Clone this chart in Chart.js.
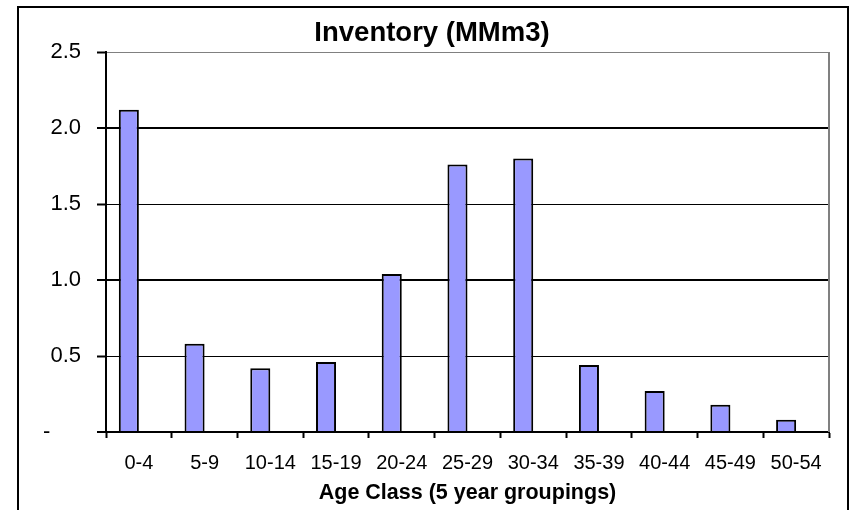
<!DOCTYPE html>
<html>
<head>
<meta charset="utf-8">
<title>Inventory (MMm3)</title>
<script src="https://cdn.jsdelivr.net/npm/chart.js@4.4.1/dist/chart.umd.min.js"></script>
<style>
    html, body { margin: 0; padding: 0; background: #fff; overflow: hidden; }
    #frame {
        position: absolute; left: 17px; top: 6px;
        width: 832px; height: 600px;
        border: 2px solid #000; box-sizing: border-box;
    }
    #wrap { position: absolute; left: 0; top: 0; width: 862px; height: 510px; }
</style>
</head>
<body>
<div id="frame"></div>
<div id="wrap"><canvas id="inventoryChart"></canvas></div>
<script>
// 데이터
const ageClasses = ['0-4', '5-9', '10-14', '15-19', '20-24', '25-29', '30-34', '35-39', '40-44', '45-49', '50-54'];
const inventory = [2.12, 0.58, 0.42, 0.46, 1.04, 1.76, 1.80, 0.44, 0.27, 0.18, 0.08];
// 원본 엑셀 차트의 빈 두번째 계열 (막대가 왼쪽으로 치우쳐 있음)
const emptySeries = [null, null, null, null, null, null, null, null, null, null, null];
const yTicks = [0, 0.5, 1.0, 1.5, 2.0, 2.5];

Chart.defaults.font.family = "'Liberation Sans', Arial, sans-serif";
Chart.defaults.color = '#000';

// 플롯 영역 오른쪽 회색 테두리
const plotBorder = {
    id: 'plotBorder',
    afterDraw(chart) {
        const { ctx, chartArea } = chart;
        ctx.save();
        ctx.strokeStyle = '#808080';
        ctx.lineWidth = 2;
        ctx.beginPath();
        ctx.moveTo(chartArea.right, chartArea.top);
        ctx.lineTo(chartArea.right, chartArea.bottom);
        ctx.stroke();
        ctx.restore();
    }
};

let invCtx = document.getElementById('inventoryChart').getContext('2d');
let invChart = new Chart(invCtx, {
    type: 'bar',
    data: {
        labels: ageClasses,
        datasets: [
            { label: 'Inventory', data: inventory, backgroundColor: '#9999FF', borderColor: '#000', borderWidth: 2 },
            { label: '', data: emptySeries, backgroundColor: '#9999FF' }
        ]
    },
    options: {
        responsive: true,
        maintainAspectRatio: false,
        animation: false,
        categoryPercentage: 0.61,
        barPercentage: 1,
        layout: { padding: { left: 35, right: 33, top: 0, bottom: 0 } },
        plugins: {
            legend: { display: false },
            tooltip: { enabled: false },
            title: {
                display: true,
                text: 'Inventory (MMm3)',
                color: '#000',
                font: { size: 27.5, weight: 'bold' },
                padding: { top: 17, bottom: 2 }
            }
        },
        scales: {
            x: {
                grid: { drawOnChartArea: false, tickLength: 6, tickColor: '#000', tickWidth: 2 },
                border: { color: '#000', width: 2 },
                ticks: { font: { size: 20 }, padding: 13, maxRotation: 0, autoSkip: false },
                title: {
                    display: true,
                    text: 'Age Class (5 year groupings)',
                    font: { size: 21.5, weight: 'bold' },
                    padding: { top: 4, bottom: 4 }
                },
                afterFit(scale) { scale.height = 78; }
            },
            y: {
                min: 0,
                max: 2.5,
                afterBuildTicks(scale) { scale.ticks = yTicks.map(v => ({ value: v })); },
                grid: {
                    color: c => c.tick.value === 2.5 ? '#808080' : '#000',
                    lineWidth: c => (c.tick.value % 1 === 0 ? 2 : 1),
                    tickLength: 9,
                    tickColor: '#000',
                    tickWidth: 2
                },
                border: { color: '#000', width: 2 },
                ticks: {
                    font: { size: 22 },
                    padding: 16,
                    callback: v => v === 0 ? '-     ' : v.toFixed(1)
                },
                afterFit(scale) { scale.width = 71; }
            }
        }
    },
    plugins: [plotBorder]
});
</script>
</body>
</html>
